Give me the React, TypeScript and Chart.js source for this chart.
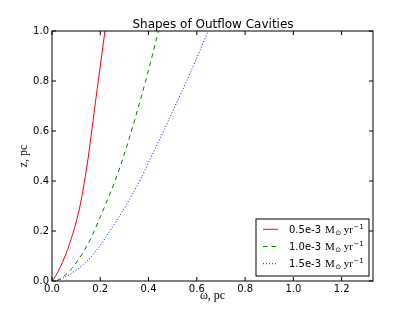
import React, { useEffect, useRef } from "react";
import { Chart, registerables } from "chart.js";

Chart.register(...registerables);

// z (height, pc) sample levels and opening radius omega (pc) for each outflow rate
const zValues = [0, 0.02, 0.05, 0.1, 0.15, 0.2, 0.25, 0.3, 0.4, 0.5, 0.6, 0.7, 0.8, 0.9, 1.0];
const omegaRate05 = [0, 0.015, 0.0315, 0.0545, 0.073, 0.09, 0.104, 0.116, 0.135, 0.151, 0.1645, 0.178, 0.1915, 0.2055, 0.2195];
const omegaRate10 = [0.018, 0.05, 0.082, 0.119, 0.15, 0.175, 0.197, 0.219, 0.261, 0.297, 0.329, 0.359, 0.388, 0.415, 0.441];
const omegaRate15 = [0.022, 0.062, 0.11, 0.165, 0.205, 0.24, 0.273, 0.305, 0.363, 0.413, 0.462, 0.51, 0.558, 0.603, 0.647];

const seriesRates = ["0.5e-3", "1.0e-3", "1.5e-3"];
const seriesColors = ["#ff0000", "#008000", "#0000ff"];
const seriesDashes: number[][] = [[], [4.5, 4], [1, 2]];

const xTicks = [0, 0.2, 0.4, 0.6, 0.8, 1.0, 1.2];
const yTicks = [0, 0.2, 0.4, 0.6, 0.8, 1.0];
const xMax = 1.33;
const yMax = 1.0;

const chartTitle = "Shapes of Outflow Cavities";
const xTitle = "ω, pc";
const yTitle = "z, pc";

function drawRateLabel(ctx: CanvasRenderingContext2D, x: number, y: number, rate: string) {
  ctx.textAlign = "left";
  ctx.textBaseline = "alphabetic";
  ctx.fillStyle = "#000";
  ctx.font = '10px "DejaVu Sans"';
  ctx.fillText(rate, x, y);
  x += ctx.measureText(rate).width + 4;
  ctx.font = '11px "Liberation Serif"';
  ctx.fillText("M", x, y);
  x += ctx.measureText("M").width;
  ctx.font = '7px "DejaVu Sans"';
  ctx.fillText("⊙", x + 0.5, y + 2);
  x += ctx.measureText("⊙").width + 3;
  ctx.font = '11px "Liberation Serif"';
  ctx.fillText("yr", x, y);
  x += ctx.measureText("yr").width;
  ctx.font = '7px "DejaVu Sans"';
  ctx.fillText("−1", x + 0.5, y - 4);
}

const decorPlugin = {
  id: "decor",
  afterDraw(chart: any) {
    const { ctx, chartArea: a, scales } = chart;
    ctx.save();
    // frame
    ctx.strokeStyle = "#000";
    ctx.lineWidth = 1;
    ctx.setLineDash([]);
    ctx.strokeRect(a.left, a.top, a.right - a.left, a.bottom - a.top);
    // inward ticks on all four sides
    const tl = 4;
    ctx.beginPath();
    scales.x.ticks.forEach((t: any) => {
      const px = scales.x.getPixelForValue(t.value);
      ctx.moveTo(px, a.bottom);
      ctx.lineTo(px, a.bottom - tl);
      ctx.moveTo(px, a.top);
      ctx.lineTo(px, a.top + tl);
    });
    scales.y.ticks.forEach((t: any) => {
      const py = scales.y.getPixelForValue(t.value);
      ctx.moveTo(a.left, py);
      ctx.lineTo(a.left + tl, py);
      ctx.moveTo(a.right, py);
      ctx.lineTo(a.right - tl, py);
    });
    ctx.stroke();

    // title centred over the axes
    ctx.font = '12px "DejaVu Sans"';
    ctx.fillStyle = "#000";
    ctx.textAlign = "center";
    ctx.textBaseline = "alphabetic";
    ctx.fillText(chartTitle, (a.left + a.right) / 2 + 0.5, a.top - 3);

    // legend (lower right)
    const lw = 113;
    const lh = 57;
    const lx = a.right - 4 - lw;
    const ly = a.bottom - 5 - lh;
    ctx.fillStyle = "#fff";
    ctx.fillRect(lx, ly, lw, lh);
    ctx.strokeStyle = "#000";
    ctx.lineWidth = 1;
    ctx.strokeRect(lx, ly, lw, lh);
    chart.data.datasets.forEach((ds: any, i: number) => {
      const cy = ly + 10.3 + i * 17.2;
      ctx.beginPath();
      ctx.strokeStyle = ds.borderColor;
      ctx.lineWidth = ds.borderWidth;
      ctx.setLineDash(ds.borderDash || []);
      ctx.moveTo(lx + 7, cy);
      ctx.lineTo(lx + 22, cy);
      ctx.stroke();
      ctx.setLineDash([]);
      drawRateLabel(ctx, lx + 33, cy + 3.5, seriesRates[i]);
    });
    ctx.restore();
  },
};

export default function App() {
  const canvasRef = useRef<HTMLCanvasElement | null>(null);

  useEffect(() => {
    if (!canvasRef.current) return;
    const series = [omegaRate05, omegaRate10, omegaRate15];
    const chart = new Chart(canvasRef.current, {
      type: "line",
      data: {
        datasets: series.map((omega, i) => ({
          label: seriesRates[i],
          data: omega.map((w, j) => ({ x: w, y: zValues[j] })),
          borderColor: seriesColors[i],
          backgroundColor: seriesColors[i],
          borderWidth: 1,
          borderDash: seriesDashes[i],
          pointRadius: 0,
          fill: false,
          cubicInterpolationMode: "monotone" as const,
        })),
      },
      options: {
        indexAxis: "y",
        animation: false,
        responsive: false,
        devicePixelRatio: 1,
        layout: { padding: { left: 0, right: 42, top: 31, bottom: 0 } },
        plugins: {
          legend: { display: false },
          title: { display: false },
          tooltip: { enabled: false },
        },
        scales: {
          x: {
            type: "linear",
            min: 0,
            max: xMax,
            afterBuildTicks: (s: any) => {
              s.ticks = xTicks.map((v) => ({ value: v }));
            },
            afterFit: (s: any) => {
              s.height = 32;
            },
            ticks: {
              callback: (v: any) => Number(v).toFixed(1),
              font: { family: "DejaVu Sans", size: 10 },
              color: "#000",
              padding: 2,
              maxRotation: 0,
              autoSkip: false,
            },
            grid: { display: false, drawTicks: false },
            border: { display: false },
            title: {
              display: true,
              text: xTitle,
              font: { family: "Liberation Serif", size: 12 },
              color: "#000",
              padding: { top: 0, bottom: 10 },
            },
          },
          y: {
            type: "linear",
            min: 0,
            max: yMax,
            afterBuildTicks: (s: any) => {
              s.ticks = yTicks.map((v) => ({ value: v }));
            },
            afterFit: (s: any) => {
              s.width = 52;
            },
            ticks: {
              callback: (v: any) => Number(v).toFixed(1),
              font: { family: "DejaVu Sans", size: 10 },
              color: "#000",
              padding: 3,
            },
            grid: { display: false, drawTicks: false },
            border: { display: false },
            title: {
              display: true,
              text: yTitle,
              font: { family: "Liberation Serif", size: 12 },
              color: "#000",
              padding: { top: 17, bottom: 0 },
            },
          },
        },
      },
      plugins: [decorPlugin],
    });
    return () => chart.destroy();
  }, []);

  return (
    <div style={{ position: "fixed", left: 0, top: 0, width: 415, height: 313, background: "#fff" }}>
      <canvas ref={canvasRef} width={415} height={313} style={{ display: "block", width: 415, height: 313 }} />
    </div>
  );
}
